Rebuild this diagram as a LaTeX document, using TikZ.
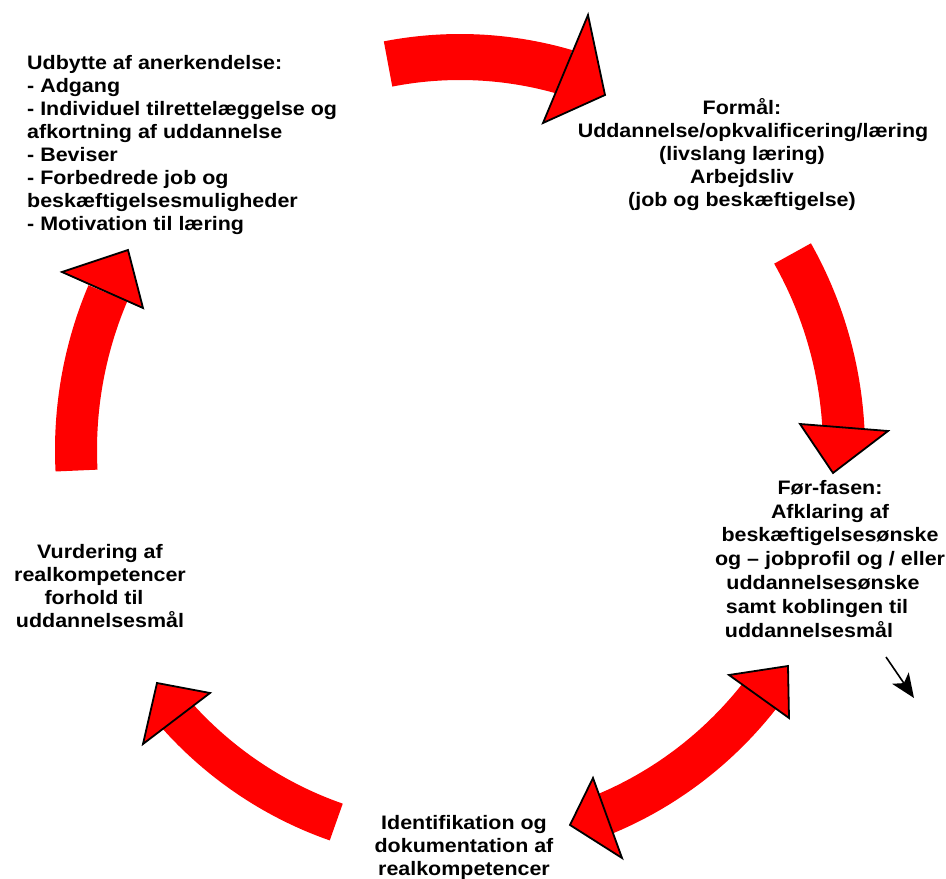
\documentclass[tikz,border=0pt]{standalone}
\usepackage{fontspec}
\setmainfont{Liberation Sans}[FakeStretch=1.1]
\usetikzlibrary{arrows.meta}
\definecolor{ringred}{RGB}{255,0,0}

\begin{document}
\begin{tikzpicture}[x=1pt,y=1pt,
  band/.style={draw=ringred,line width=42pt},
  head/.style={fill=ringred,draw=black,line width=1.8pt},
  lbl/.style={font=\fontsize{19.5}{23}\selectfont\bfseries,inner sep=0pt},
  pointer/.style={draw=black,line width=1.6pt,-{Stealth[length=24pt,width=20pt,inset=6pt]}}]
\useasboundingbox (0,0) rectangle (946,879);
\coordinate (ring) at (460,429);

% top: Udbytte -> Formaal
\draw[band,line width=46pt] (ring) ++(100.8:384 and 393) arc[start angle=100.8,end angle=74,x radius=384,y radius=393];
\draw[head] (588,864) -- (605,784) -- (543,756) -- cycle;
% right: Formaal -> Foer-fasen
\draw[band] (ring) ++(30:384 and 393) arc[start angle=30,end angle=2,x radius=384,y radius=393];
\draw[head] (800,455) -- (888,448) -- (833,406) -- cycle;
% bottom right, both ways
\draw[band] (ring) ++(-69.5:384 and 393) arc[start angle=-69.5,end angle=-38,x radius=384,y radius=393];
\draw[head] (729,204) -- (788,213) -- (789,161) -- cycle;
\draw[head] (593,101) -- (570,54) -- (622,21) -- cycle;
% bottom left: Identifikation -> Vurdering
\draw[band,line width=39pt] (ring) ++(-108.8:384 and 393) arc[start angle=-108.8,end angle=-138.5,x radius=384,y radius=393];
\draw[head] (157,196) -- (210,186) -- (143,135) -- cycle;
% left: Vurdering -> Udbytte
\draw[band] (ring) ++(183:384 and 393) arc[start angle=183,end angle=156.5,x radius=384,y radius=393];
\draw[head] (62,607) -- (128,629) -- (143,571) -- cycle;

\node[lbl,anchor=north west,align=left] (udbytte) at (27,824) {Udbytte af anerkendelse:\\- Adgang\\- Individuel tilrettelæggelse og\\afkortning af uddannelse\\- Beviser\\- Forbedrede job og\\beskæftigelsesmuligheder\\- Motivation til læring};
\node[lbl,anchor=north,align=center] (formaal) at (742,781) {Formål:\\\hspace*{22pt}Uddannelse/opkvalificering/læring\\(livslang læring)\\Arbejdsliv\\(job og beskæftigelse)};
\node[lbl,font=\fontsize{19.5}{23.8}\selectfont\bfseries,anchor=north,align=center] (forfasen) at (830,399) {Før-fasen:\\Afklaring af\\beskæftigelsesønske\\og – jobprofil og / eller\\uddannelsesønske\kern14pt\\samt koblingen til\kern26pt\\uddannelsesmål\kern42pt};
\node[lbl,anchor=north,align=center] (vurdering) at (100,335) {Vurdering af\\realkompetencer\\forhold til\kern12pt\\uddannelsesmål};
\node[lbl,anchor=north,align=center] (identifikation) at (464,64) {Identifikation og\\dokumentation af\\realkompetencer};

\coordinate (ptrA) at (886,222);
\coordinate (ptrB) at (914,181);
\draw[pointer] (ptrA) -- (ptrB);
\end{tikzpicture}
\end{document}
